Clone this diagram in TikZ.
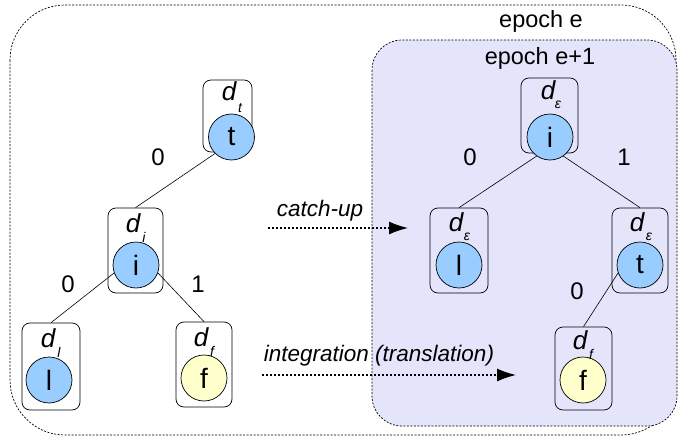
\documentclass[tikz,border=0pt]{standalone}
\usepackage{fontspec}
\setmainfont{Liberation Sans}
\usetikzlibrary{arrows.meta}
\definecolor{bluefill}{HTML}{99CCFF}
\definecolor{yellowfill}{HTML}{FFFFCC}
\definecolor{epochfill}{HTML}{E4E4FA}
\begin{document}
\begin{tikzpicture}[x=1pt,y=-1pt,
  region/.style={draw,line width=0.7pt,dash pattern=on 2pt off 1.5pt},
  dbox/.style={draw,rounded corners=8pt,line width=0.7pt,minimum width=#1,minimum height=80pt},
  blue/.style={circle,draw,line width=0.7pt,fill=bluefill,minimum size=46pt,inner sep=0pt,font=\fontsize{28}{30}\selectfont},
  yellow/.style={circle,draw,line width=0.7pt,fill=yellowfill,minimum size=46pt,inner sep=0pt,font=\fontsize{28}{30}\selectfont},
  dl/.style={font=\fontsize{26}{28}\selectfont\itshape,inner sep=0pt},
  sub/.style={font=\fontsize{14}{15}\selectfont\itshape,inner sep=0pt},
  edge/.style={line width=0.6pt},
  lab/.style={font=\fontsize{23.5}{25}\selectfont,inner sep=0pt},
  elab/.style={font=\fontsize{24}{26}\selectfont,inner sep=0pt},
  flow/.style={line width=1.4pt,dash pattern=on 2pt off 2pt,-{Latex[length=19pt,width=13pt]}},
  flowlab/.style={font=\fontsize{22.5}{24}\selectfont\itshape,inner sep=0pt}
]
\useasboundingbox (0,0) rectangle (681,439);
% regions
\draw[region,rounded corners=55pt] (10,5) rectangle (676,435);
\draw[region,fill=epochfill,rounded corners=30pt] (372,40) rectangle (677,426);
\node[lab] (ep) at (541,21) {epoch e};
\node[lab] (ep1) at (540,58) {epoch e+1};

% left tree
\node[dbox=49pt,minimum height=72pt] (bt) at (227.5,116) {};
\node[blue] (ct) at (231.5,137) {t};
\node[dl] (dt) at (229,91) {d};
\node[sub] (st) at (240,108) {t};

\node[dbox=55pt,minimum height=85pt] (bi) at (135.5,250.5) {};
\node[blue] (ci) at (136,265) {i};
\node[dl] (di) at (133,223) {d};
\node[sub] (si) at (144,237) {i};

\node[dbox=58pt,minimum height=87pt] (bl) at (51,366.5) {};
\node[blue] (cl) at (49,380) {l};
\node[dl] (dll) at (48,338) {d};
\node[sub] (sl) at (59,352) {l};

\node[dbox=56pt,minimum height=85pt] (bf) at (204,364.5) {};
\node[yellow] (cf) at (204,378) {f};
\node[dl] (df) at (201,337) {d};
\node[sub] (sf) at (212,351) {f};

\draw[edge] (ct.225) -- (bi.north);
\draw[edge] (ci.200) -- (bl.north);
\draw[edge] (ci.340) -- (bf.north);
\node[elab] (e1) at (158,157) {0};
\node[elab] (e2) at (68,284) {0};
\node[elab] (e3) at (198,284) {1};

% right tree
\node[dbox=57pt,minimum height=75pt] (br) at (549.5,115.5) {};
\node[blue] (cr) at (550,137) {i};
\node[dl] (dr) at (548,90) {d};
\node[sub] (sr) at (558,105) {ε};

\node[dbox=58pt,minimum height=85pt] (brl) at (459,250.5) {};
\node[blue] (crl) at (459,265) {l};
\node[dl] (drl) at (456,222) {d};
\node[sub] (srl) at (467,237) {ε};

\node[dbox=56pt,minimum height=85pt] (brt) at (640,250.5) {};
\node[blue] (crt) at (640,265) {t};
\node[dl] (drt) at (637,222) {d};
\node[sub] (srt) at (649,237) {ε};

\node[dbox=57pt,minimum height=83pt] (brf) at (583.5,368.5) {};
\node[yellow] (crf) at (583,380) {f};
\node[dl] (drf) at (580,340) {d};
\node[sub] (srf) at (591,354) {f};

\draw[edge] (cr.235) -- (brl.north);
\draw[edge] (cr.305) -- (brt.north);
\draw[edge] (crt.200) -- (brf.north);
\node[elab] (e4) at (470,157) {0};
\node[elab] (e5) at (624,157) {1};
\node[elab] (e6) at (577,291) {0};

% flows
\coordinate (c1s) at (268,228);
\coordinate (c1e) at (408,228);
\draw[flow] (c1s) -- (c1e);
\node[flowlab] (cu) at (320,211) {catch-up};
\coordinate (c2s) at (262,375);
\coordinate (c2e) at (516,375);
\draw[flow] (c2s) -- (c2e);
\node[flowlab] (ig) at (379,356) {integration (translation)};
\end{tikzpicture}
\end{document}
